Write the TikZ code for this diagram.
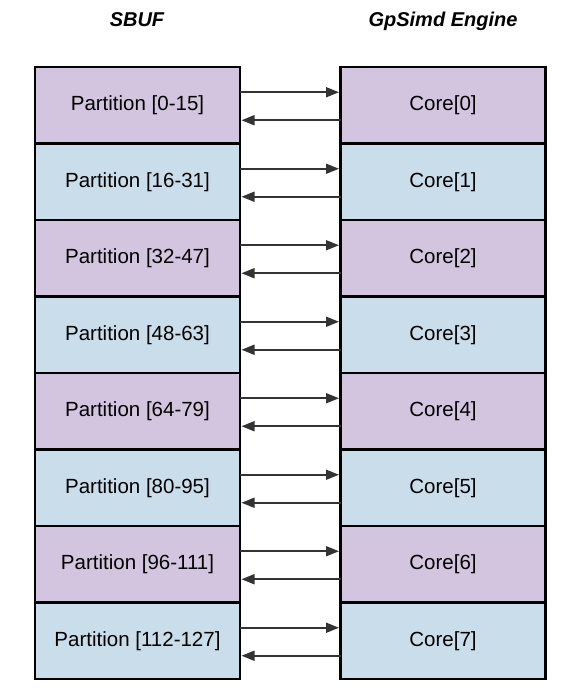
\documentclass[tikz,border=0pt]{standalone}
\usepackage{fontspec}
\setmainfont{Liberation Sans}
\usetikzlibrary{arrows.meta,positioning}
\definecolor{partpurple}{RGB}{211,196,223}
\definecolor{partblue}{RGB}{202,221,235}
\definecolor{arrowgray}{RGB}{51,51,51}

\begin{document}
\begin{tikzpicture}[x=1pt,y=1pt,>={Triangle[length=13pt,width=10pt]},
                    purple node/.style={rectangle,draw,line width=2.2pt,fill=partpurple,minimum width=205pt,minimum height=76.5pt,inner sep=0pt,outer sep=0pt,font=\fontsize{20.5}{24}\selectfont},
                    blue node/.style={purple node,fill=partblue},
                    title/.style={anchor=base,font=\fontsize{20}{24}\selectfont\bfseries\itshape}]
\useasboundingbox (0,0) rectangle (581,697);
\node[title] (sbuf) at (137,670) {SBUF};
\node[title] (gpsimd) at (443,670) {GpSimd Engine};

\node[purple node] (p0) at (137.5,591.75) {Partition [0-15]};
\node[blue node] (p1) [below=0pt of p0] {Partition [16-31]};
\node[purple node] (p2) [below=0pt of p1] {Partition [32-47]};
\node[blue node] (p3) [below=0pt of p2] {Partition [48-63]};
\node[purple node] (p4) [below=0pt of p3] {Partition [64-79]};
\node[blue node] (p5) [below=0pt of p4] {Partition [80-95]};
\node[purple node] (p6) [below=0pt of p5] {Partition [96-111]};
\node[blue node] (p7) [below=0pt of p6] {Partition [112-127]};

\node[purple node] (c0) at (443,591.75) {Core[0]};
\node[blue node] (c1) [below=0pt of c0] {Core[1]};
\node[purple node] (c2) [below=0pt of c1] {Core[2]};
\node[blue node] (c3) [below=0pt of c2] {Core[3]};
\node[purple node] (c4) [below=0pt of c3] {Core[4]};
\node[blue node] (c5) [below=0pt of c4] {Core[5]};
\node[purple node] (c6) [below=0pt of c5] {Core[6]};
\node[blue node] (c7) [below=0pt of c6] {Core[7]};

\path[every edge/.style={draw=arrowgray,line width=1.6pt,->,shorten >=1.5pt}]
([yshift=13pt]p0.east) edge ([yshift=13pt]c0.west)
([yshift=-15pt]c0.west) edge ([yshift=-15pt]p0.east)
([yshift=13pt]p1.east) edge ([yshift=13pt]c1.west)
([yshift=-15pt]c1.west) edge ([yshift=-15pt]p1.east)
([yshift=13pt]p2.east) edge ([yshift=13pt]c2.west)
([yshift=-15pt]c2.west) edge ([yshift=-15pt]p2.east)
([yshift=13pt]p3.east) edge ([yshift=13pt]c3.west)
([yshift=-15pt]c3.west) edge ([yshift=-15pt]p3.east)
([yshift=13pt]p4.east) edge ([yshift=13pt]c4.west)
([yshift=-15pt]c4.west) edge ([yshift=-15pt]p4.east)
([yshift=13pt]p5.east) edge ([yshift=13pt]c5.west)
([yshift=-15pt]c5.west) edge ([yshift=-15pt]p5.east)
([yshift=13pt]p6.east) edge ([yshift=13pt]c6.west)
([yshift=-15pt]c6.west) edge ([yshift=-15pt]p6.east)
([yshift=13pt]p7.east) edge ([yshift=13pt]c7.west)
([yshift=-15pt]c7.west) edge ([yshift=-15pt]p7.east);
\end{tikzpicture}
\end{document}
